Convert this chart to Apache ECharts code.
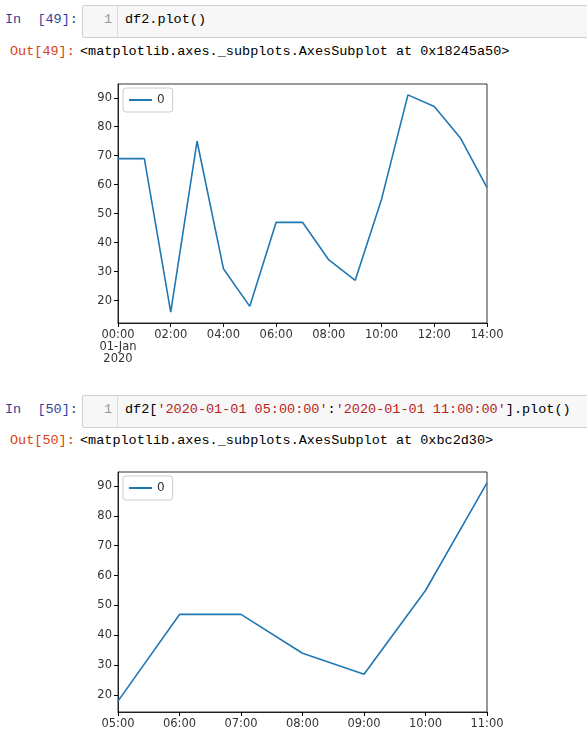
<!DOCTYPE html>
<html><head><meta charset="utf-8">
<script src="https://cdn.jsdelivr.net/npm/echarts@6/dist/echarts.min.js"></script>
<style>
body{margin:0;width:587px;height:748px;background:#fff;position:relative;overflow:hidden;font-family:"Liberation Mono","DejaVu Sans Mono",monospace;font-size:13.5px;}
.a{position:absolute;white-space:pre;line-height:16px;}
.box{position:absolute;left:82px;width:510px;height:31px;background:#f7f7f7;border:1px solid #cfcfcf;border-radius:2px;}
.gut{position:absolute;left:0;top:0;width:34px;height:31px;border-right:1px solid #ddd;}
.in{color:#303f9f}.out{color:#d84315}.s{color:#ba2121}
</style></head><body>
<div class="a in" style="left:5px;top:12px">In  [49]:</div>
<div class="box" style="top:5px"><div class="gut"></div></div>
<div class="a" style="left:104px;top:12px;color:#999">1</div>
<div class="a" style="left:125px;top:12px">df2.plot()</div>
<div class="a out" style="left:10px;top:44px">Out[49]:</div>
<div class="a" style="left:80px;top:44px">&lt;matplotlib.axes._subplots.AxesSubplot at 0x18245a50&gt;</div>
<div class="a in" style="left:5px;top:402px">In  [50]:</div>
<div class="box" style="top:395px"><div class="gut"></div></div>
<div class="a" style="left:104px;top:402px;color:#999">1</div>
<div class="a" style="left:125px;top:402px">df2[<span class="s">'2020-01-01 05:00:00'</span>:<span class="s">'2020-01-01 11:00:00'</span>].plot()</div>
<div class="a out" style="left:10px;top:433px">Out[50]:</div>
<div class="a" style="left:80px;top:433px">&lt;matplotlib.axes._subplots.AxesSubplot at 0xbc2d30&gt;</div>
<div id="c" style="position:absolute;left:0;top:0;width:587px;height:748px"></div>
<script>
const hours1 = [0,1,2,3,4,5,6,7,8,9,10,11,12,13,14];
const values1 = [69,69,16,75,31,18,47,47,34,27,55,91,87,76,59];
const hours2 = [5,6,7,8,9,10,11];
const values2 = [18,47,47,34,27,55,91];
const yTicks = [20,30,40,50,60,70,80,90];
const xTicks1 = [0,2,4,6,8,10,12,14];
const xTicks2 = [5,6,7,8,9,10,11];
const seriesName = '0';

const fmt = h => (h<10?'0':'')+h+':00';
const lbl = {color:'#333',fontSize:11.5,fontFamily:'DejaVu Sans'};
function xAxis(idx, mn, mx, ticks, first){
  return {type:'value',gridIndex:idx,min:mn,max:mx,
    axisLine:{onZero:false,lineStyle:{color:'#000',width:0.8}},
    axisTick:{customValues:ticks,length:4,lineStyle:{color:'#000'}},
    axisLabel:{customValues:ticks,...lbl,margin:6,lineHeight:12,
      formatter:v=> (first && v===mn) ? fmt(v)+'\n01-Jan\n2020' : fmt(v)},
    splitLine:{show:false}};
}
function yAxis(idx, mn, mx){
  return {type:'value',gridIndex:idx,min:mn,max:mx,
    axisLine:{show:true,lineStyle:{color:'#000',width:0.8}},
    axisTick:{show:true,customValues:yTicks,length:4,lineStyle:{color:'#000'}},
    axisLabel:{customValues:yTicks,...lbl,margin:6},
    splitLine:{show:false}};
}
const r1 = [Math.min(...values1),Math.max(...values1)], p1=(r1[1]-r1[0])*0.05;
const r2 = [Math.min(...values2),Math.max(...values2)], p2=(r2[1]-r2[0])*0.05;
const line = {type:'line',symbol:'none',name:seriesName,lineStyle:{color:'#1f77b4',width:1.6},itemStyle:{color:'#1f77b4'}};
const legend = (top)=>({left:123,top:top,data:[{name:seriesName,icon:'rect'}],itemWidth:23,itemHeight:2,itemGap:5,
  padding:[6,8,6,6],borderColor:'#ccc',borderWidth:1,borderRadius:3,textStyle:{...lbl,fontSize:12}});
const chart = echarts.init(document.getElementById('c'));
chart.setOption({
  animation:false,
  grid:[{left:118,top:84,width:369,height:239,show:true,borderColor:'#000',borderWidth:0.8},
        {left:118,top:472,width:369,height:240,show:true,borderColor:'#000',borderWidth:0.8}],
  xAxis:[xAxis(0,0,14,xTicks1,true),xAxis(1,5,11,xTicks2,false)],
  yAxis:[yAxis(0,r1[0]-p1,r1[1]+p1),yAxis(1,r2[0]-p2,r2[1]+p2)],
  legend:[legend(88),legend(476)],
  series:[{...line,xAxisIndex:0,yAxisIndex:0,data:hours1.map((h,i)=>[h,values1[i]])},
          {...line,xAxisIndex:1,yAxisIndex:1,data:hours2.map((h,i)=>[h,values2[i]])}]
});
</script></body></html>
